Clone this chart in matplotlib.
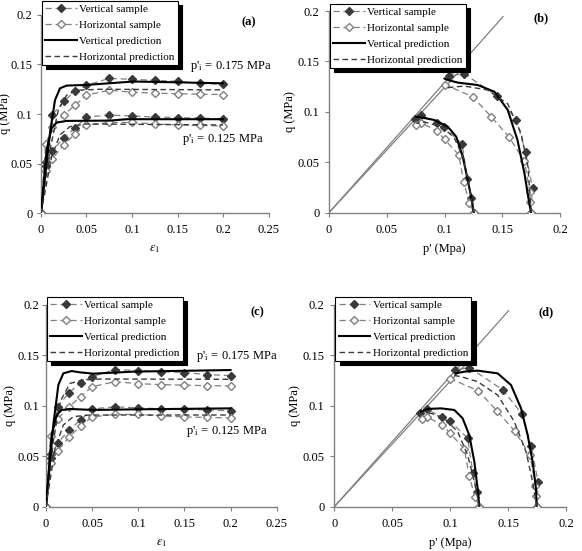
import numpy as np
import matplotlib.pyplot as plt
from matplotlib.lines import Line2D

plt.rcParams['font.family'] = ['Liberation Serif', 'DejaVu Serif']
plt.rcParams['mathtext.fontset'] = 'stix'

# ---- sample data (same in both rows) ----
eps = [0, 0.005, 0.0125, 0.025, 0.0375, 0.05, 0.075, 0.1, 0.125, 0.15, 0.175, 0.2]
q_v175 = [0, 0.052, 0.099, 0.113, 0.123, 0.129, 0.136, 0.135, 0.134, 0.133, 0.131, 0.130]
q_h175 = [0, 0.070, 0.087, 0.099, 0.109, 0.119, 0.124, 0.122, 0.121, 0.1205, 0.120, 0.1197]
q_v125 = [0, 0.048, 0.063, 0.076, 0.086, 0.097, 0.099, 0.098, 0.097, 0.0965, 0.096, 0.095]
q_h125 = [0, 0.043, 0.055, 0.069, 0.080, 0.089, 0.0915, 0.0915, 0.090, 0.089, 0.0885, 0.088]

# stress paths of the samples
p_sv175 = [0.1747, 0.176, 0.170, 0.162, 0.1453, 0.1165, 0.104]
q_sv175 = [0, 0.024, 0.060, 0.092, 0.116, 0.138, 0.1355]
p_sh175 = [0.1747, 0.174, 0.1735, 0.169, 0.1557, 0.1404, 0.1243, 0.0999]
q_sh175 = [0, 0.011, 0.021, 0.051, 0.075, 0.095, 0.115, 0.127]
p_sv125 = [0.1252, 0.123, 0.1197, 0.1151, 0.0996, 0.0932, 0.0797, 0.074]
q_sv125 = [0, 0.015, 0.033, 0.068, 0.085, 0.089, 0.0965, 0.093]
p_sh125 = [0.1252, 0.1214, 0.1165, 0.1122, 0.0999, 0.0932, 0.0797, 0.0754]
q_sh125 = [0, 0.010, 0.030, 0.0575, 0.0727, 0.0813, 0.089, 0.087]

# critical state lines
csl1_p, csl1_q = [0, 0.1505], [0, 0.1944]
csl2_p, csl2_q = [0, 0.119], [0, 0.148]

# ---- predictions, panel (a) ----
a_ev175 = [0, 0.0099, 0.0154, 0.0209, 0.0282, 0.0502, 0.1015, 0.149, 0.2]
a_qv175 = [0, 0.0807, 0.114, 0.126, 0.1287, 0.1294, 0.1328, 0.132, 0.131]
a_ev125 = [0, 0.0062, 0.0117, 0.0172, 0.0282, 0.0759, 0.0942, 0.2]
a_qv125 = [0, 0.0639, 0.0857, 0.0914, 0.0931, 0.0934, 0.0948, 0.0948]
a_eh175 = [0, 0.0099, 0.019, 0.0282, 0.039, 0.065, 0.2]
a_qh175 = [0, 0.0639, 0.104, 0.119, 0.124, 0.125, 0.1244]
a_eh125 = [0, 0.0117, 0.0209, 0.032, 0.0502, 0.2]
a_qh125 = [0, 0.057, 0.079, 0.0874, 0.090, 0.089]

# ---- predictions, panel (b) ----
b_pv175 = [0.1747, 0.1727, 0.169, 0.163, 0.1545, 0.143, 0.1286, 0.1114, 0.1027, 0.0999]
b_qv175 = [0, 0.0126, 0.039, 0.072, 0.102, 0.120, 0.1266, 0.129, 0.1316, 0.133]
b_ph175 = [0.1747, 0.174, 0.172, 0.166, 0.1545, 0.137, 0.117, 0.1027, 0.0999]
b_qh175 = [0, 0.015, 0.046, 0.079, 0.108, 0.1217, 0.1256, 0.124, 0.123]
b_pv125 = [0.1252, 0.1229, 0.120, 0.1157, 0.110, 0.1027, 0.0912, 0.0797, 0.0754]
b_qv125 = [0, 0.0159, 0.032, 0.0555, 0.0754, 0.0853, 0.0919, 0.0945, 0.0952]
b_ph125 = [0.1252, 0.1214, 0.1157, 0.108, 0.097, 0.0826, 0.0754]
b_qh125 = [0, 0.0258, 0.0555, 0.075, 0.0853, 0.090, 0.0886]

# ---- predictions, panel (c) ----
c_ev175 = [0, 0.0079, 0.0134, 0.0188, 0.0278, 0.0368, 0.0513, 0.0947, 0.2]
c_qv175 = [0, 0.081, 0.1207, 0.1322, 0.1345, 0.1332, 0.1319, 0.1339, 0.1355]
c_ev125 = [0, 0.0061, 0.0116, 0.017, 0.026, 0.0513, 0.0947, 0.2]
c_qv125 = [0, 0.071, 0.0909, 0.0959, 0.0969, 0.0959, 0.0965, 0.0975]
c_eh175 = [0, 0.0079, 0.0152, 0.026, 0.0405, 0.0585, 0.2]
c_qh175 = [0, 0.0645, 0.104, 0.1223, 0.1256, 0.1266, 0.1263]
c_eh125 = [0, 0.0098, 0.0188, 0.0296, 0.0477, 0.2]
c_qh125 = [0, 0.0579, 0.081, 0.0893, 0.0909, 0.0909]

# ---- predictions, panel (d) ----
d_pv175 = [0.1747, 0.1741, 0.1712, 0.1669, 0.1612, 0.1525, 0.141, 0.1237, 0.1122, 0.105]
d_qv175 = [0, 0.018, 0.0446, 0.071, 0.0975, 0.1207, 0.1322, 0.1349, 0.1339, 0.1322]
d_ph175 = [0.1747, 0.1712, 0.1655, 0.1554, 0.141, 0.1237, 0.1094, 0.1007]
d_qh175 = [0, 0.0248, 0.0545, 0.0843, 0.1107, 0.124, 0.129, 0.1306]
d_pv125 = [0.1252, 0.1237, 0.1209, 0.1165, 0.1108, 0.1036, 0.0921, 0.0806, 0.0748]
d_qv125 = [0, 0.018, 0.0446, 0.071, 0.0876, 0.0959, 0.0975, 0.0969, 0.0942]
d_ph125 = [0.1252, 0.1209, 0.1151, 0.1065, 0.095, 0.0835, 0.0763]
d_qh125 = [0, 0.0248, 0.0512, 0.0744, 0.0876, 0.0926, 0.0926]

DARK = '#3a3a3a'
GREY = '#808080'
FS = 9
MS = 4.5


def samples(ax, x, y, filled):
    if filled:
        ax.plot(x, y, ls=(0, (5, 3)), color=GREY, lw=0.9, marker='D', ms=MS,
                mfc=DARK, mec=DARK, zorder=3)
    else:
        ax.plot(x, y, ls=(0, (5, 3)), color=GREY, lw=0.9, marker='D', ms=MS,
                mfc='white', mec=GREY, zorder=3)


def preds(ax, xv, yv, xh, yh):
    ax.plot(xv, yv, color='black', lw=1.5, zorder=4)
    ax.plot(xh, yh, color=DARK, lw=1.0, ls=(0, (4, 2.5)), zorder=4)


def style(ax, xmax, xticks, xlabel, tag, legtop, ypad, ylpad):
    ax.set_xlim(0, xmax)
    ax.set_ylim(0, 0.2)
    ax.set_xticks(xticks)
    ax.set_xticklabels([('%g' % t) for t in xticks])
    ax.set_yticks([0, 0.05, 0.1, 0.15, 0.2])
    ax.set_yticklabels(['0', '0.05', '0.1', '0.15', '0.2'])
    for s in ['top', 'right']:
        ax.spines[s].set_visible(False)
    for s in ['left', 'bottom']:
        ax.spines[s].set_color(GREY)
        ax.spines[s].set_linewidth(1.0)
    ax.tick_params(direction='out', length=3, color=GREY, labelsize=FS)
    ax.tick_params(axis='x', pad=5)
    ax.tick_params(axis='y', pad=ypad)
    ax.set_xlabel(xlabel, fontsize=FS, labelpad=5)
    ax.set_ylabel('q (MPa)', fontsize=FS, labelpad=ylpad)
    ax.text(0.915 * xmax, 0.193, tag, fontsize=FS, fontweight='bold',
            ha='center', va='center')
    handles = [
        Line2D([], [], ls=(0, (5, 3)), color=GREY, lw=0.9, marker='D', ms=MS, mfc=DARK, mec=DARK),
        Line2D([], [], ls=(0, (5, 3)), color=GREY, lw=0.9, marker='D', ms=MS, mfc='white', mec=GREY),
        Line2D([], [], color='black', lw=1.5),
        Line2D([], [], color=DARK, lw=1.0, ls=(0, (4, 2.5))),
    ]
    labels = ['Vertical sample', 'Horizontal sample', 'Vertical prediction', 'Horizontal prediction']
    leg = ax.legend(handles, labels, loc='upper left', bbox_to_anchor=(0.005, legtop),
                    prop={'size': 8}, frameon=True, fancybox=False, framealpha=1,
                    edgecolor='black', handlelength=2.8, handletextpad=0.25,
                    labelspacing=0.55, borderpad=0.3, borderaxespad=0.0,
                    shadow={'ox': 3, 'oy': -3, 'color': 'black', 'alpha': 1})
    leg.get_frame().set_linewidth(0.8)


fig = plt.figure(figsize=(5.82, 5.51), dpi=100)
ax_a = fig.add_axes([0.0704, 0.613, 0.391, 0.360])
ax_b = fig.add_axes([0.5653, 0.614, 0.3974, 0.366])
ax_c = fig.add_axes([0.079, 0.0804, 0.3964, 0.3661])
ax_d = fig.add_axes([0.5744, 0.0804, 0.3981, 0.3661])

# strain panels
for ax, (ev175, qv175, eh175, qh175, ev125, qv125, eh125, qh125) in [
        (ax_a, (a_ev175, a_qv175, a_eh175, a_qh175, a_ev125, a_qv125, a_eh125, a_qh125)),
        (ax_c, (c_ev175, c_qv175, c_eh175, c_qh175, c_ev125, c_qv125, c_eh125, c_qh125))]:
    samples(ax, eps, q_v175, True)
    samples(ax, eps, q_h175, False)
    samples(ax, eps, q_v125, True)
    samples(ax, eps, q_h125, False)
    preds(ax, ev175, qv175, eh175, qh175)
    preds(ax, ev125, qv125, eh125, qh125)

ax_a.text(0.164, 0.148, "p'$_\\mathrm{i}$ = 0.175 MPa", fontsize=FS, va='center')
ax_a.text(0.155, 0.074, "p'$_\\mathrm{i}$ = 0.125 MPa", fontsize=FS, va='center')
ax_c.text(0.1626, 0.149, "p'$_\\mathrm{i}$ = 0.175 MPa", fontsize=FS, va='center')
ax_c.text(0.152, 0.075, "p'$_\\mathrm{i}$ = 0.125 MPa", fontsize=FS, va='center')

# stress path panels
for ax, (pv175, qv175, ph175, qh175, pv125, qv125, ph125, qh125) in [
        (ax_b, (b_pv175, b_qv175, b_ph175, b_qh175, b_pv125, b_qv125, b_ph125, b_qh125)),
        (ax_d, (d_pv175, d_qv175, d_ph175, d_qh175, d_pv125, d_qv125, d_ph125, d_qh125))]:
    ax.plot(csl1_p, csl1_q, color=GREY, lw=0.9, zorder=2)
    ax.plot(csl2_p, csl2_q, color=GREY, lw=0.9, zorder=2)
    samples(ax, p_sv175, q_sv175, True)
    samples(ax, p_sh175, q_sh175, False)
    samples(ax, p_sv125, q_sv125, True)
    samples(ax, p_sh125, q_sh125, False)
    preds(ax, pv175, qv175, ph175, qh175)
    preds(ax, pv125, qv125, ph125, qh125)

style(ax_a, 0.25, [0, 0.05, 0.1, 0.15, 0.2, 0.25], '$\\varepsilon_1$', '(a)', 1.07, 3, -0.5)
style(ax_b, 0.2, [0, 0.05, 0.1, 0.15, 0.2], "p' (Mpa)", '(b)', 1.035, 4, 1)
style(ax_c, 0.25, [0, 0.05, 0.1, 0.15, 0.2, 0.25], '$\\varepsilon_1$', '(c)', 1.04, 2, 1)
style(ax_d, 0.2, [0, 0.05, 0.1, 0.15, 0.2], "p' (Mpa)", '(d)', 1.04, 4, 1)

fig.savefig('out.png', dpi=100)
